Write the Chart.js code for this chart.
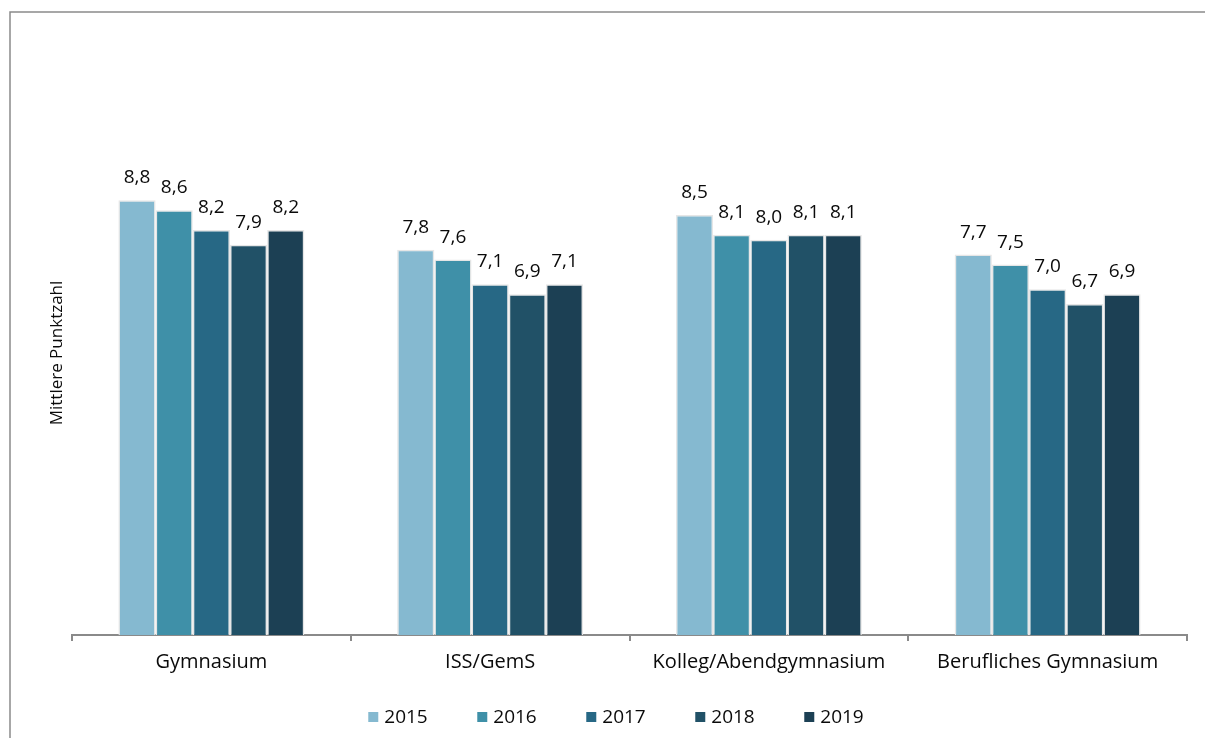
<!DOCTYPE html>
<html>
<head>
<meta charset="utf-8">
<script src="https://cdn.jsdelivr.net/npm/chart.js@4/dist/chart.umd.min.js"></script>
<style>
  html, body { margin: 0; padding: 0; background: #fff; }
  #wrap { width: 1205px; height: 738px; position: relative; }
</style>
</head>
<body>
<div id="wrap"><canvas id="chart"></canvas></div>
<script>
// ── Data ─────────────────────────────────────────────────────
const categories = ['Gymnasium', 'ISS/GemS', 'Kolleg/Abendgymnasium', 'Berufliches Gymnasium'];
const years      = ['2015', '2016', '2017', '2018', '2019'];
const v2015 = [8.8, 7.8, 8.5, 7.7];
const v2016 = [8.6, 7.6, 8.1, 7.5];
const v2017 = [8.2, 7.1, 8.0, 7.0];
const v2018 = [7.9, 6.9, 8.1, 6.7];
const v2019 = [8.2, 7.1, 8.1, 6.9];
const yTitle = 'Mittlere Punktzahl';

const colors = ['#85b9d0', '#3f90a8', '#276885', '#215167', '#1c4054'];
const FONT = "'Open Sans', sans-serif";

// ── Plugins ──────────────────────────────────────────────────
const framePlugin = {
    id: 'frame',
    beforeDraw(chart) {
        const c = chart.ctx;
        c.save();
        c.strokeStyle = '#8a8a8a';
        c.lineWidth = 1.5;
        c.beginPath();
        c.moveTo(10, chart.height);
        c.lineTo(10, 12);
        c.lineTo(chart.width, 12);
        c.stroke();
        c.restore();
    },
};

const valueLabels = {
    id: 'valueLabels',
    afterDatasetsDraw(chart) {
        const c = chart.ctx;
        c.save();
        c.font = '19px ' + FONT;
        c.fillStyle = '#0a0a0a';
        c.textAlign = 'center';
        c.textBaseline = 'alphabetic';
        chart.data.datasets.forEach((ds, i) => {
            chart.getDatasetMeta(i).data.forEach((bar, j) => {
                c.fillText(ds.data[j].toFixed(1).replace('.', ','), bar.x, bar.y - 17);
            });
        });
        c.restore();
    },
};

const yTitlePlugin = {
    id: 'yTitle',
    afterDraw(chart) {
        const c = chart.ctx;
        c.save();
        c.font = '17px ' + FONT;
        c.fillStyle = '#0a0a0a';
        c.textAlign = 'center';
        c.textBaseline = 'middle';
        c.translate(57, 353);
        c.rotate(-Math.PI / 2);
        c.fillText(yTitle, 0, 0);
        c.restore();
    },
};

// legend drawn by hand so the wide spacing between items fits
const bottomLegend = {
    id: 'bottomLegend',
    afterDraw(chart) {
        const c = chart.ctx;
        const step = 109, box = 10, gap = 6, cy = 717;
        c.save();
        c.font = '19px ' + FONT;
        c.textBaseline = 'middle';
        c.textAlign = 'left';
        const lastW = box + gap + c.measureText(years[years.length - 1]).width;
        const total = step * (years.length - 1) + lastW;
        let x = 616 - total / 2;
        chart.data.datasets.forEach((ds) => {
            c.fillStyle = ds.backgroundColor;
            c.fillRect(x, cy - box / 2, box, box);
            c.fillStyle = '#0a0a0a';
            c.fillText(ds.label, x + box + gap, cy + 1);
            x += step;
        });
        c.restore();
    },
};

// ── Chart ────────────────────────────────────────────────────
const series = [v2015, v2016, v2017, v2018, v2019];

new Chart(document.getElementById('chart'), {
    type: 'bar',
    data: {
        labels: categories,
        datasets: years.map((y, i) => ({
            label: y,
            data: series[i],
            backgroundColor: colors[i],
            borderColor: '#e6e6e6',
            borderWidth: 1.5,
            categoryPercentage: 0.667,
            barPercentage: 1.0,
        })),
    },
    options: {
        responsive: true,
        maintainAspectRatio: false,
        animation: false,
        layout: { padding: { left: 72, right: 18, top: 141, bottom: 55 } },
        scales: {
            x: {
                offset: true,
                grid: {
                    offset: true,
                    drawOnChartArea: false,
                    drawTicks: true,
                    tickLength: 6,
                    color: '#8a8a8a',
                    lineWidth: 2,
                },
                border: { display: true, color: '#8a8a8a', width: 2 },
                ticks: {
                    color: '#0a0a0a',
                    font: { family: FONT, size: 20 },
                    padding: 9,
                    maxRotation: 0,
                },
            },
            y: {
                display: false,
                min: 0,
                max: 10,
            },
        },
        plugins: {
            legend: { display: false },
            tooltip: { enabled: false },
        },
    },
    plugins: [framePlugin, valueLabels, yTitlePlugin, bottomLegend],
});
</script>
</body>
</html>
